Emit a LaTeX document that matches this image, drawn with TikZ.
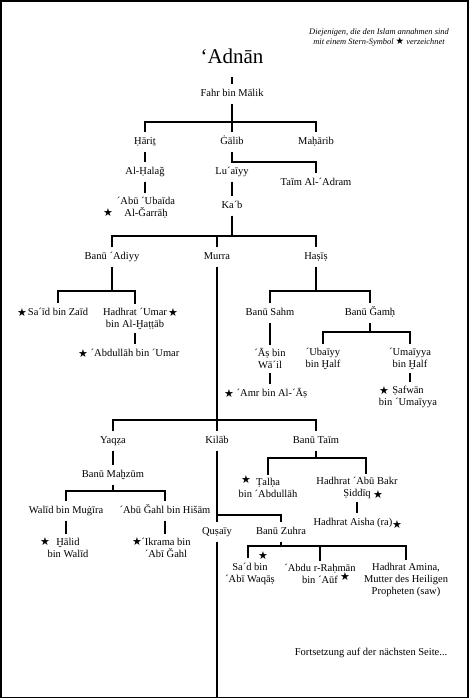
\documentclass[tikz,border=0pt]{standalone}
\usepackage{fontspec}
\setmainfont{Liberation Serif}
\newfontfamily\starfont{DejaVu Sans}
\begin{document}
\begin{tikzpicture}[x=1pt,y=-1pt,
  nm/.style={font=\fontsize{10.5}{12}\selectfont, text height=8pt, text depth=3pt, inner xsep=2pt, inner ysep=4pt},
  nmm/.style={font=\fontsize{10.5}{12}\selectfont, align=center, inner xsep=2pt, inner ysep=3.5pt},
  sym/.style={font=\starfont\fontsize{11}{12}\selectfont, inner sep=0pt},
  ln/.style={line width=1.2pt}]
\useasboundingbox (0,0) rectangle (470,699);
\draw[line width=1.6pt] (1,1) rectangle (468,697.5);

% note
\node[font=\itshape\fontsize{8.4}{10}\selectfont, align=center] (note) at (379,37)
  {Diejenigen, die den Islam annahmen sind\\mit einem Stern-Symbol {\upshape\starfont\fontsize{9.5}{10}\selectfont ★} verzeichnet};

% nodes
\node[font=\fontsize{21}{24}\selectfont, anchor=base, inner sep=0pt] (adnan) at (232,63) {‘Adnān};
\node[nm] (fahr) at (232,94) {Fahr bin Mālik};
\node[nm] (harit) at (145,142) {Ḥāriṯ};
\node[nm] (galib) at (232,142) {Ġālib};
\node[nm] (maharib) at (316,142) {Maḥārib};
\node[nm] (halag) at (145,172) {Al-Ḥalaǧ};
\node[nmm] (abu) at (146,207.5) {´Abū ´Ubaīda\\Al-Ǧarrāḥ};
\node[nm] (luaiyy) at (232,172) {Lu´aīyy};
\node[nm] (taimadram) at (316,183) {Taīm Al-´Adram};
\node[nm] (kab) at (232,206) {Ka´b};
\node[nm] (adiyy) at (112,257) {Banū ´Adiyy};
\node[nm] (murra) at (217,257) {Murra};
\node[nm] (hasis) at (316,257) {Haṣīṣ};
\node[nm] (said) at (58,313) {Sa´īd bin Zaīd};
\node[nmm] (umar) at (135,318.5) {Hadhrat ´Umar\\bin Al-Ḫaṭṭāb};
\node[nm] (abdullah) at (135,354) {´Abdullāh bin ´Umar};
\node[nm] (sahm) at (270,313) {Banū Sahm};
\node[nm] (gamh) at (370,313) {Banū Ǧamḥ};
\node[nmm] (as) at (270,359) {´Āṣ bin\\Wā´il};
\node[nmm] (ubaiyy) at (323,358.5) {´Ubaīyy\\bin Ḫalf};
\node[nmm] (umaiyya) at (410,358.5) {´Umaīyya\\bin Ḫalf};
\node[nm] (amr) at (272,394) {´Amr bin Al-´Āṣ};
\node[nmm] (safwan) at (408,396.5) {Ṣafwān\\bin ´Umaīyya};
\node[nm] (yaqza) at (113,441) {Yaqẓa};
\node[nm] (kilab) at (217,441) {Kilāb};
\node[nm] (banutaim) at (316,441) {Banū Taīm};
\node[nm] (mahzum) at (113,475) {Banū Maḫzūm};
\node[nm] (walid) at (66,511) {Walīd bin Muġīra};
\node[nm] (abugahl) at (165,511) {´Abū Ǧahl bin Hišām};
\node[nmm] (halid) at (68,547.5) {Ḫālid\\bin Walīd};
\node[nmm] (ikrama) at (166,547.5) {´Ikrama bin\\´Abī Ǧahl};
\node[nmm] (talha) at (268,488) {Ṭalḥa\\bin ´Abdullāh};
\node[nmm] (abubakr) at (357,488) {Hadhrat ´Abū Bakr\\Ṣiddīq};
\node[nm] (aisha) at (353,523) {Hadhrat Aisha (ra)};
\node[nm] (qusaiy) at (217,532) {Quṣaīy};
\node[nm] (zuhra) at (281,532) {Banū Zuhra};
\node[nmm, inner ysep=1pt] (sad) at (250,574) {Sa´d bin\\´Abī Waqāṣ};
\node[nmm] (abdu) at (320,574) {´Abdu r-Raḥmān\\bin ´Aūf};
\node[nmm] (amina) at (406,580) {Hadhrat Amina,\\Mutter des Heiligen\\Propheten (saw)};
\node[nm] (fort) at (371,653) {Fortsetzung auf der nächsten Seite...};

% stars
\node[sym] (s1) at (108,213) {★};
\node[sym] (s2) at (22,313) {★};
\node[sym] (s3) at (173,313) {★};
\node[sym] (s4) at (83,354) {★};
\node[sym] (s5) at (229,394) {★};
\node[sym] (s6) at (384,391) {★};
\node[sym] (s7) at (45,542) {★};
\node[sym] (s8) at (137,542) {★};
\node[sym] (s9) at (246,480) {★};
\node[sym] (s10) at (378,495) {★};
\node[sym] (s11) at (397,525) {★};
\node[sym] (s12) at (263,555.5) {★};
\node[sym] (s13) at (345,577) {★};

% junctions
\coordinate (j1) at (232,122);
\coordinate (j2) at (232,162);
\coordinate (j3) at (232,236);
\coordinate (jA) at (112,291);
\coordinate (jH) at (316,291);
\coordinate (jG) at (370,332);
\coordinate (jM) at (217,420);
\coordinate (jZ) at (113,491);
\coordinate (jT) at (316,458);
\coordinate (jK) at (217,515);
\coordinate (jZu) at (281,546);
\coordinate (bottom) at (217,697);

% connectors
\draw[ln] ([yshift=-14pt]adnan.base) -- (fahr.north);
\draw[ln] (fahr.south) -- (j1);
\draw[ln] (harit.north) |- (j1) -| (maharib.north);
\draw[ln] (galib.north) -- (j1);
\draw[ln] (harit.south) -- (halag.north);
\draw[ln] (halag.south) -- (halag.south |- abu.north);
\draw[ln] (galib.south) -- (j2) -| (taimadram.north);
\draw[ln] (luaiyy.south) -- (kab.north);
\draw[ln] (kab.south) -- (j3);
\draw[ln] (adiyy.north) |- (j3) -| (hasis.north);
\draw[ln] (murra.north) -- (murra.north |- j3);
\draw[ln] (adiyy.south) -- (jA);
\draw[ln] (said.north) |- (jA) -| (umar.north);
\draw[ln] (umar.south) -- (abdullah.north);
\draw[ln] (hasis.south) -- (jH);
\draw[ln] (sahm.north) |- (jH) -| (gamh.north);
\draw[ln] (sahm.south) -- (as.north);
\draw[ln] (as.south) -- (as.south |- amr.north);
\draw[ln] (gamh.south) -- (jG);
\draw[ln] (ubaiyy.north) |- (jG) -| (umaiyya.north);
\draw[ln] (umaiyya.south) -- (umaiyya.south |- safwan.north);
\draw[ln] (murra.south) -- (kilab.north);
\draw[ln] (yaqza.north) |- (jM) -| (banutaim.north);
\draw[ln] (yaqza.south) -- (mahzum.north);
\draw[ln] (mahzum.south) -- (jZ);
\draw[ln] (walid.north) |- (jZ) -| (abugahl.north);
\draw[ln] (walid.south) -- (walid.south |- halid.north);
\draw[ln] (abugahl.south) -- (abugahl.south |- ikrama.north);
\draw[ln] (banutaim.south) -- (jT);
\draw[ln] (talha.north) |- (jT) -| ([xshift=9pt]abubakr.north);
\draw[ln] (abubakr.south) -- (abubakr.south |- aisha.north);
\draw[ln] (kilab.south) -- (qusaiy.north);
\draw[ln] (qusaiy.south) -- (bottom);
\draw[ln] (jK) -| (zuhra.north);
\draw[ln] (zuhra.south) -- (jZu);
\draw[ln] ([xshift=-2pt,yshift=4pt]sad.north) |- (jZu) -| (amina.north);
\draw[ln] (abdu.north) -- (abdu.north |- jZu);
\end{tikzpicture}
\end{document}
